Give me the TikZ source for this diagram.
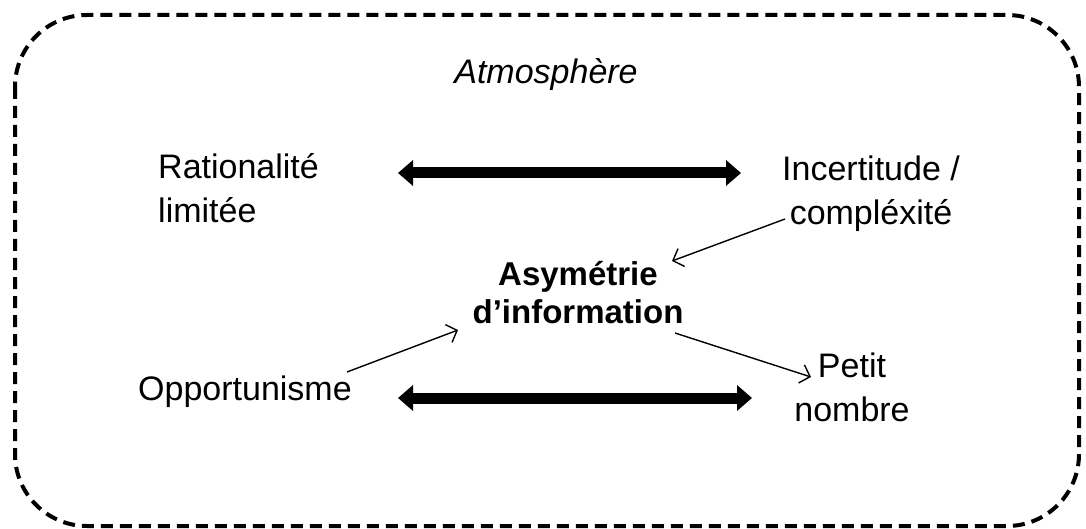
\documentclass[tikz,border=0pt]{standalone}
\usepackage{fontspec}
\setmainfont{Liberation Sans}
\usetikzlibrary{arrows.meta}
\begin{document}
\begin{tikzpicture}[x=1pt,y=-1pt,
  frame/.style={line width=4pt, dash pattern=on 12pt off 7pt, rounded corners=72pt},
  lbl/.style={inner sep=0pt, font=\fontsize{34}{44}\selectfont},
  boldlbl/.style={inner sep=0pt, align=center, font=\fontsize{33}{38}\selectfont\bfseries},
  thick arrow/.style={line width=11pt, {Triangle[length=15pt,width=25pt]}-{Triangle[length=15pt,width=25pt]}},
  thin arrow/.style={line width=1.4pt, -{Straight Barb[length=9pt,width=19pt]}}]
\useasboundingbox (0,0) rectangle (1086,529);
\draw[frame] (15,15) rectangle (1079,526);
\node[lbl, anchor=base, font=\fontsize{34}{44}\selectfont\itshape] (atm) at (546,84) {Atmosphère};
\node[lbl, align=left, anchor=base west] (rat) at (158,223) {Rationalité\\limitée};
\node[lbl, align=center, anchor=base] (inc) at (871,225) {Incertitude /\\compléxité};
\node[boldlbl, anchor=base] (asy) at (578,323) {Asymétrie\\d’information};
\node[lbl, anchor=base west] (opp) at (138,400) {Opportunisme};
\node[lbl, align=center, anchor=base] (pet) at (852,421) {Petit\\nombre};
\coordinate (t1) at (398,173);
\coordinate (t2) at (741,173);
\coordinate (b1) at (398,398);
\coordinate (b2) at (752,398);
\draw[thick arrow] (t1) -- (t2);
\draw[thick arrow] (b1) -- (b2);
\coordinate (c1s) at (785,219);
\coordinate (c1e) at (672,261);
\coordinate (c2s) at (347,372);
\coordinate (c2e) at (458,330);
\coordinate (c3s) at (675,333);
\coordinate (c3e) at (811,377);
\draw[thin arrow] (c1s) -- (c1e);
\draw[thin arrow] (c2s) -- (c2e);
\draw[thin arrow] (c3s) -- (c3e);
\end{tikzpicture}
\end{document}
